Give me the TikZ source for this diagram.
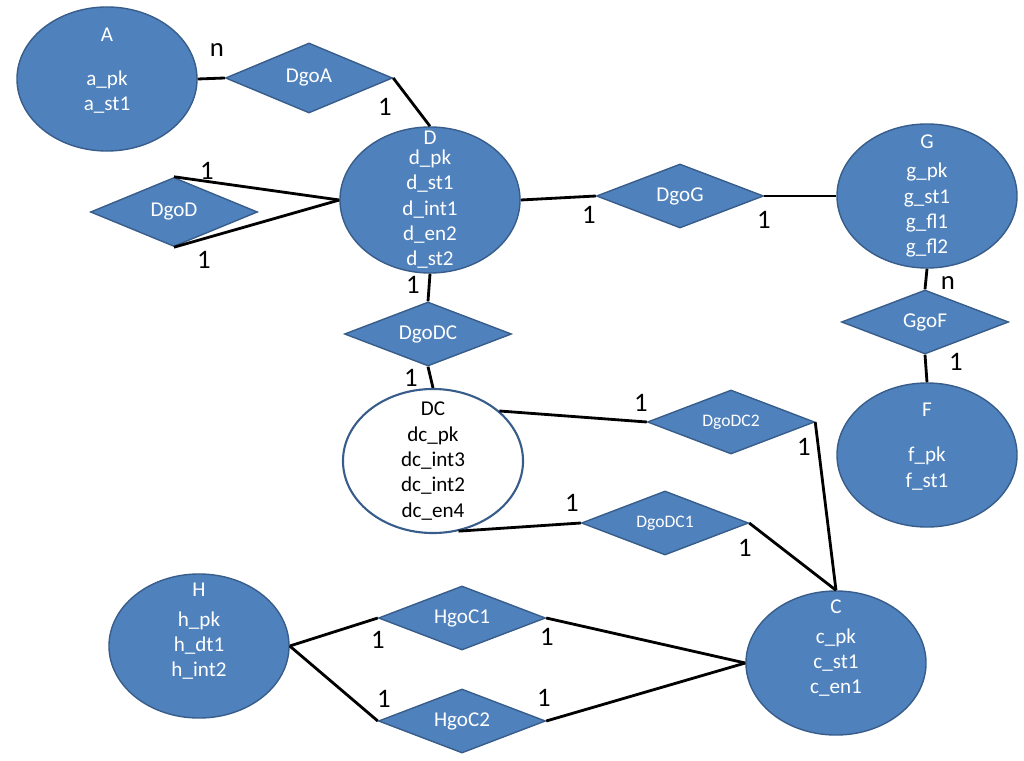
\documentclass[tikz,border=0pt]{standalone}
\usepackage{fontspec}
\setmainfont{Carlito}
\usetikzlibrary{shapes.geometric}
\definecolor{erblue}{HTML}{4F81BD}
\definecolor{erborder}{HTML}{385D8A}

\begin{document}
\begin{tikzpicture}[x=0.025cm, y=-0.025cm,
			entity/.style={ellipse, draw=erborder, line width=1pt, fill=erblue, text=white, minimum width=4.5cm, minimum height=3.6cm, inner xsep=0pt, inner ysep=-20pt, align=center, font=\fontsize{15}{18}\selectfont},
			relation/.style={diamond, draw=erborder, line width=1pt, fill=erblue, text=white, minimum width=4.175cm, minimum height=1.6cm, inner sep=0pt, aspect=2.6, font=\fontsize{15}{18}\selectfont},
			card/.style={inner sep=0pt, font=\fontsize{19}{22}\selectfont},
			link/.style={draw, line width=2pt}]
			\useasboundingbox (0,0) rectangle (1024,761);
			
			\node[entity](A) at (107, 79) {A\\[13pt]a\_pk\\a\_st1\\[-4pt]\mbox{}};
			\node[relation, minimum height=1.75cm](DgoA) at (309, 78) {DgoA};
			\node[entity, minimum height=3.65cm](D) at (430, 200) {D\\[-4pt]d\_pk\\d\_st1\\d\_int1\\d\_en2\\d\_st2};
			\node[relation, minimum height=1.725cm](DgoD) at (174, 212) {DgoD};
			\node[relation](DgoG) at (680, 196) {DgoG};
			\node[entity](G) at (927, 196) {G\\[3pt]g\_pk\\g\_st1\\g\_fl1\\g\_fl2};
			\node[relation](GgoF) at (925, 322) {GgoF};
			\node[entity](F) at (927, 455) {F\\[14pt]f\_pk\\f\_st1\\[-4pt]\mbox{}};
			
			\node[relation](DgoDC) at (428, 334) {DgoDC};
			\node[entity, fill=white, text=black, line width=1.5pt](DC) at (433, 461) {DC\\dc\_pk\\dc\_int3\\dc\_int2\\dc\_en4};
			\node[relation, font=\fontsize{12.5}{15}\selectfont](DgoDC2) at (731, 422) {DgoDC2};
			\node[relation, font=\fontsize{12.5}{15}\selectfont](DgoDC1) at (665, 523) {DgoDC1};
			
			\node[entity](C) at (836, 663) {C\\[3pt]c\_pk\\c\_st1\\c\_en1\\[5pt]\mbox{}};
			\node[entity](H) at (199, 646) {H\\[3pt]h\_pk\\h\_dt1\\h\_int2\\[5pt]\mbox{}};
			\node[relation](HgoC1) at (462, 618) {HgoC1};
			\node[relation](HgoC2) at (462, 721) {HgoC2};
			
			\draw[link] (A.east) edge (DgoA.west);
			\draw[link] (DgoA.east) edge (D.north);
			\draw[link] (DgoD.north) edge (D.west);
			\draw[link] (DgoD.south) edge (D.west);
			\draw[link] (D.east) edge (DgoG.west);
			\draw[link] (DgoG.east) edge (G.west);
			\draw[link] (G.south) edge (GgoF.north);
			\draw[link] (GgoF.south) edge (F.north);
			\draw[link] (D.south) edge (DgoDC.north);
			\draw[link] (DgoDC.south) edge (DC.north);
			\draw[link] (DC.37) edge (DgoDC2.west);
			\draw[link] (DgoDC2.east) edge (C.north);
			\draw[link] (DC.-70) edge (DgoDC1.west);
			\draw[link] (DgoDC1.east) edge (C.north);
			\draw[link] (H.east) edge (HgoC1.west);
			\draw[link] (H.east) edge (HgoC2.west);
			\draw[link] (HgoC1.east) edge (C.west);
			\draw[link] (HgoC2.east) edge (C.west);
			
			\node[card](card1) at (217, 50) {n};
			\node[card](card2) at (385, 107) {1};
			\node[card](card3) at (207, 171) {1};
			\node[card](card4) at (204, 260) {1};
			\node[card](card5) at (589, 215) {1};
			\node[card](card6) at (764, 220) {1};
			\node[card](card7) at (948, 283) {n};
			\node[card](card8) at (956, 362) {1};
			\node[card](card9) at (413, 285) {1};
			\node[card](card10) at (411, 378) {1};
			\node[card](card11) at (641, 403) {1};
			\node[card](card12) at (804, 447) {1};
			\node[card](card13) at (572, 503) {1};
			\node[card](card14) at (745, 548) {1};
			\node[card](card15) at (378, 640) {1};
			\node[card](card16) at (384, 699) {1};
			\node[card](card17) at (547, 637) {1};
			\node[card](card18) at (544, 698) {1};
		\end{tikzpicture}
\end{document}
